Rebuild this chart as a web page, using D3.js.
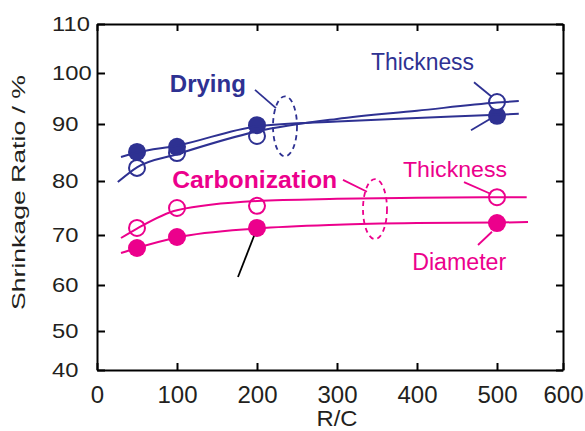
<!DOCTYPE html>
<html>
<head>
<meta charset="utf-8">
<script src="https://cdn.jsdelivr.net/npm/d3@7"></script>
<style>
  html, body { margin: 0; padding: 0; background: #fff; }
  svg { display: block; font-family: "Liberation Sans", Arial, sans-serif; }
</style>
</head>
<body>
<svg id="chart" width="585" height="431"></svg>
<script>
// ---------- data ----------
const xTicks = [0, 100, 200, 300, 400, 500, 600];
const yTicks = [40, 50, 60, 70, 80, 90, 100, 110];
const rcValues = [50, 100, 200, 500];

const dryingDiameter   = [85.1, 86.0, 89.8, 91.6];
const dryingThickness  = [82.3, 84.9, 87.9, 94.3];
const carbThickness    = [71.3, 75.0, 75.4, 77.0];
const carbDiameter     = [67.4, 69.6, 71.3, 72.2];

// fitted curves
const fitDryDiaX   = [30, 50, 100, 200, 300, 400, 500, 533];
const fitDryDiaY   = [84.2, 85.0, 86.2, 89.6, 90.5, 91.2, 91.8, 92.0];
const fitDryThkX   = [26, 50, 100, 200, 300, 400, 500, 533];
const fitDryThkY   = [79.8, 82.4, 84.7, 88.7, 91.0, 92.6, 94.2, 94.5];
const fitCarThkX   = [30, 50, 100, 200, 300, 400, 500, 545];
const fitCarThkY   = [69.4, 71.2, 74.6, 76.3, 76.7, 76.9, 77.0, 77.0];
const fitCarDiaX   = [30, 50, 100, 200, 300, 400, 500, 547];
const fitCarDiaY   = [66.4, 67.4, 69.5, 71.2, 71.9, 72.2, 72.3, 72.4];

// ---------- styling ----------
const NAVY = "#2e3192", PINK = "#ec008c", INK = "#231f20";

const svg = d3.select("#chart");
const L = 97, R = 563, T = 24, B = 370;

const x = d3.scaleLinear().domain([0, 500, 600]).range([L, 497, R]);
const y = d3.scaleLinear().domain(yTicks).range([B, 331, 285, 235, 181, 124, 73, T]);

// ---------- axes ----------
function styleAxis(g) {
  g.select(".domain").attr("stroke", "#000").attr("stroke-width", 2);
  g.selectAll(".tick line").attr("stroke", "#000").attr("stroke-width", 2);
}
const gB = svg.append("g").attr("transform", `translate(0,${B})`)
  .call(d3.axisBottom(x).tickValues(xTicks).tickSizeInner(-7).tickSizeOuter(0).tickPadding(16));
styleAxis(gB);
gB.selectAll(".tick text").attr("font-size", 24).attr("fill", INK).attr("font-family", "Liberation Sans, Arial, sans-serif");

const gT = svg.append("g").attr("transform", `translate(0,${T})`)
  .call(d3.axisTop(x).tickValues(xTicks).tickSizeInner(-7).tickSizeOuter(0).tickFormat(""));
styleAxis(gT);

const gL = svg.append("g").attr("transform", `translate(${L},0)`)
  .call(d3.axisLeft(y).tickValues(yTicks).tickSizeInner(-8).tickSizeOuter(0));
styleAxis(gL);
gL.selectAll(".tick text")
  .attr("font-size", 21).attr("fill", INK).attr("font-family", "Liberation Sans, Arial, sans-serif")
  .attr("text-anchor", "start").attr("x", 52 - L)
  .each(function() {
    const w = this.getComputedTextLength();
    d3.select(this).attr("textLength", w * 1.13).attr("lengthAdjust", "spacingAndGlyphs");
  });

const gR = svg.append("g").attr("transform", `translate(${R},0)`)
  .call(d3.axisRight(y).tickValues(yTicks).tickSizeInner(-7).tickSizeOuter(0).tickFormat(""));
styleAxis(gR);

// axis titles
svg.append("text")
  .attr("transform", `translate(25,${(75 + 310) / 2}) rotate(-90)`)
  .attr("text-anchor", "middle").attr("font-size", 18).attr("fill", INK)
  .attr("textLength", 235).attr("lengthAdjust", "spacingAndGlyphs")
  .text("Shrinkage Ratio / %");
svg.append("text")
  .attr("x", x(300)).attr("y", 426)
  .attr("text-anchor", "middle").attr("font-size", 22).attr("fill", INK)
  .attr("textLength", 41).attr("lengthAdjust", "spacingAndGlyphs")
  .text("R/C");

// ---------- points ----------
const pts = [];
[[dryingDiameter, NAVY, true], [dryingThickness, NAVY, false],
 [carbThickness, PINK, false], [carbDiameter, PINK, true]].forEach(([vals, c, filled]) => {
  vals.forEach((v, i) => pts.push({ rc: rcValues[i], v, c, filled }));
});
pts.sort((a, b) => a.v - b.v);
svg.append("g").selectAll("circle").data(pts).join("circle")
  .attr("cx", d => x(d.rc)).attr("cy", d => y(d.v))
  .attr("r", d => d.filled ? 9 : 8)
  .attr("fill", d => d.filled ? d.c : "#fff")
  .attr("stroke", d => d.c)
  .attr("stroke-width", d => d.filled ? 0 : 2);

// ---------- fitted curves ----------
const line = d3.line().x(d => x(d[0])).y(d => y(d[1])).curve(d3.curveMonotoneX);
[[fitDryDiaX, fitDryDiaY, NAVY], [fitDryThkX, fitDryThkY, NAVY],
 [fitCarThkX, fitCarThkY, PINK], [fitCarDiaX, fitCarDiaY, PINK]].forEach(([xs, ys, c]) => {
  svg.append("path").datum(xs.map((v, i) => [v, ys[i]]))
    .attr("d", line).attr("fill", "none").attr("stroke", c).attr("stroke-width", 2);
});

// ---------- annotations ----------
const labels = [
  { t: "Drying", x: 91, y: 96.3, c: NAVY, bold: true, s: 24 },
  { t: "Thickness", x: 342.5, y: 100.6, c: NAVY, bold: false, s: 23, len: 103 },
  { t: "Carbonization", x: 94, y: 78.7, c: PINK, bold: true, s: 24, len: 165 },
  { t: "Thickness", x: 382.5, y: 80.7, c: PINK, bold: false, s: 22, len: 104 },
  { t: "Diameter", x: 394, y: 63.0, c: PINK, bold: false, s: 23, len: 94 }
];
labels.forEach(d => {
  const t = svg.append("text").attr("x", x(d.x)).attr("y", y(d.y))
    .attr("font-size", d.s).attr("fill", d.c)
    .attr("font-weight", d.bold ? "bold" : "normal").text(d.t);
  if (d.len) t.attr("textLength", d.len).attr("lengthAdjust", "spacingAndGlyphs");
});

const leaders = [
  { p: [[197.5, 96.7], [223.75, 93.1]], c: NAVY },
  { p: [[471.25, 98.2], [493.75, 95.3]], c: NAVY },
  { p: [[491.25, 91.0], [467.5, 88.9]], c: NAVY },
  { p: [[307.5, 80.2], [337.5, 78.0]], c: PINK },
  { p: [[458.75, 79.8], [492.5, 77.6]], c: PINK },
  { p: [[493.75, 70.6], [476.25, 68.0]], c: PINK },
  { p: [[176.25, 61.6], [196.25, 69.8]], c: "#000" }
];
leaders.forEach(d => {
  svg.append("line")
    .attr("x1", x(d.p[0][0])).attr("y1", y(d.p[0][1]))
    .attr("x2", x(d.p[1][0])).attr("y2", y(d.p[1][1]))
    .attr("stroke", d.c).attr("stroke-width", 1.8);
});

const groupMarks = [
  { x: 235, y: 89.6, c: NAVY },
  { x: 347.5, y: 74.8, c: PINK }
];
groupMarks.forEach(d => {
  svg.append("ellipse").attr("cx", x(d.x)).attr("cy", y(d.y))
    .attr("rx", 12).attr("ry", 30)
    .attr("fill", "none").attr("stroke", d.c).attr("stroke-width", 1.8)
    .attr("stroke-dasharray", "5,4");
});
</script>
</body>
</html>
